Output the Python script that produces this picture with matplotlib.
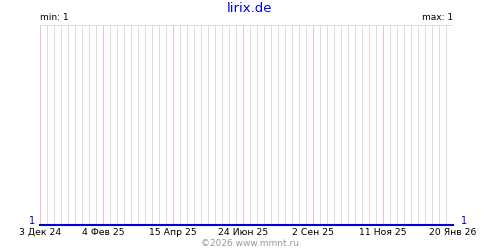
import matplotlib
matplotlib.use("Agg")
import matplotlib.pyplot as plt
from datetime import datetime, timedelta

title = "lirix.de"
dates = ["2024-12-03", "2026-01-20"]
values = [1, 1]
tick_dates = ["2024-12-03", "2025-02-04", "2025-04-15", "2025-06-24", "2025-09-02", "2025-11-11", "2026-01-20"]
tick_labels = ["3 Дек 24", "4 Фев 25", "15 Апр 25", "24 Июн 25", "2 Сен 25", "11 Ноя 25", "20 Янв 26"]
min_label = "min: 1"
max_label = "max: 1"
footer = "©2026 www.mmnt.ru"

d = [datetime.strptime(s, "%Y-%m-%d") for s in dates]
td = [datetime.strptime(s, "%Y-%m-%d") for s in tick_dates]

fig = plt.figure(figsize=(5, 2.5), dpi=100)
ax = fig.add_axes([40/500, 25/250, 413/500, 200/250])
ax.set_xlim(d[0], d[-1])
ax.set_ylim(1, 2)

# weekly grid lines
g = d[0]
while g <= d[-1]:
    col = "#ffbbbb" if g in td else "#dddddd"
    ax.axvline(g, color=col, lw=0.72, zorder=1, antialiased=False)
    g += timedelta(days=7)

ax.plot(d, values, color="#0000cc", lw=1.5, zorder=3, clip_on=False)

for s in ax.spines.values():
    s.set_visible(False)
ax.axhline(2, color="#dddddd", lw=0.72, zorder=2, antialiased=False)

ax.set_xticks(td)
ax.set_xticklabels(tick_labels, fontsize=6.7)
ax.tick_params(axis="x", length=0, pad=2)
ax.set_yticks([])

fig.text(0.5, 1 - 8/250, title, color="#0000ee", fontsize=9.5, ha="center", va="center")
fig.text(40/500, 1 - 18/250, min_label, fontsize=6.5, ha="left", va="center")
fig.text(453/500, 1 - 18/250, max_label, fontsize=6.5, ha="right", va="center")
fig.text(35/500, 1 - 221/250, str(values[0]), color="#0000cc", fontsize=7, ha="right", va="center")
fig.text(461/500, 1 - 221/250, str(values[-1]), color="#0000cc", fontsize=7, ha="left", va="center")
fig.text(0.5, 1 - 243/250, footer, color="#999999", fontsize=6.5, ha="center", va="center")

fig.savefig("out.png", dpi=100)
